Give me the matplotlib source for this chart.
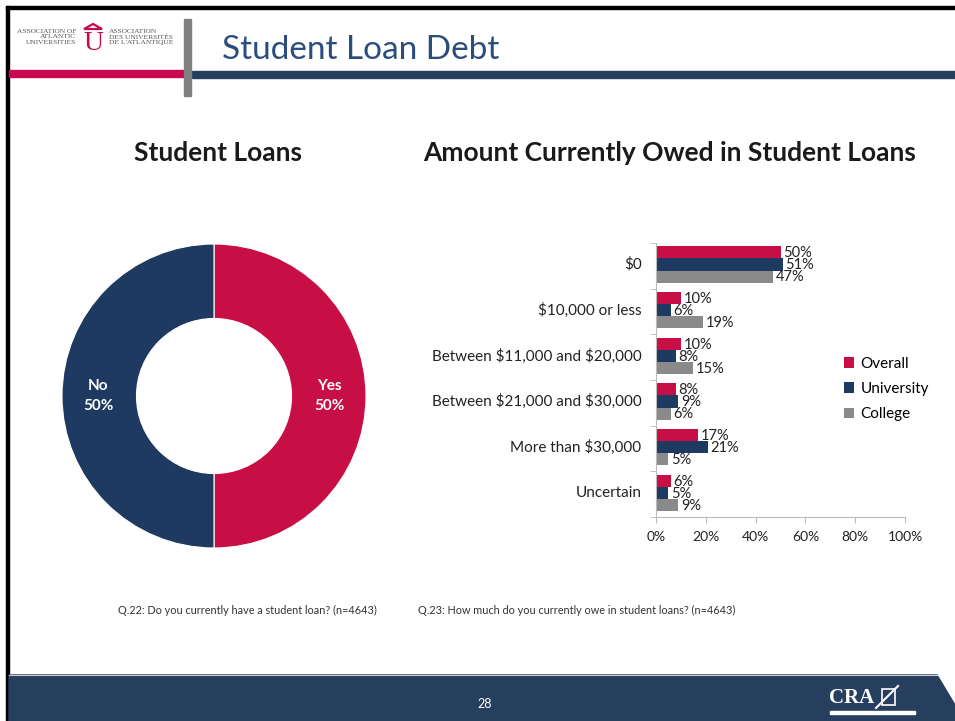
import matplotlib
matplotlib.use("Agg")
import matplotlib.pyplot as plt
import numpy as np
from matplotlib.patches import Rectangle, Polygon

plt.rcParams["font.family"] = ["Lato", "DejaVu Sans"]
plt.rcParams["text.parse_math"] = False

# --- data ---
pie_labels = ["Yes", "No"]
pie_values = [50, 50]

categories = ["$0", "$10,000 or less", "Between $11,000 and $20,000",
              "Between $21,000 and $30,000", "More than $30,000", "Uncertain"]
overall = [50, 10, 10, 8, 17, 6]
university = [51, 6, 8, 9, 21, 5]
college = [47, 19, 15, 6, 5, 9]
series_names = ["Overall", "University", "College"]
x_ticks = [0, 20, 40, 60, 80, 100]

RED = "#c80f45"
NAVY = "#1f3a60"
GRAY = "#8a8a8a"
TITLE_BLUE = "#2b4d7e"
FOOT = "#263f5f"

W, H = 955, 721
fig = plt.figure(figsize=(W / 100, H / 100), dpi=100)


def px_axes(x, y, w, h):
    return fig.add_axes([x / W, 1 - (y + h) / H, w / W, h / H])


def fx(x):
    return x / W


def fy(y):
    return 1 - y / H


# --- slide chrome ---
bg = fig.add_axes([0, 0, 1, 1])
bg.set_xlim(0, W)
bg.set_ylim(H, 0)
bg.axis("off")
bg.add_patch(Rectangle((6, 6), W, 2.5, color="black"))
bg.add_patch(Rectangle((6, 6), 2.5, H, color="black"))
bg.add_patch(Rectangle((9, 70), 175, 7, color="#c8084f"))
bg.add_patch(Rectangle((192, 71), W, 7, color=FOOT))
bg.add_patch(Rectangle((184, 19), 7, 77, color="#808080"))
bg.add_patch(Polygon([(9, 675), (937, 675), (955, 705), (955, 721), (9, 721)],
                     closed=True, color=FOOT))
bg.plot([9, 937], [674.5, 674.5], color="#c8c8c8", lw=0.8)

# logo
bg.text(76, 37, "ASSOCIATION OF\nATLANTIC\nUNIVERSITIES", fontsize=5.4,
        family="Liberation Serif", color="#555555", ha="right", va="center",
        multialignment="right", linespacing=1.1)
bg.text(109, 37, "ASSOCIATION\nDES UNIVERSITÉS\nDE L'ATLANTIQUE", fontsize=5.4,
        family="Liberation Serif", color="#555555", ha="left", va="center",
        linespacing=1.1)
bg.text(93, 43, "U", fontsize=20, family="Liberation Serif", color="#c8084f",
        ha="center", va="center")
bg.add_patch(Polygon([(84, 29), (93, 24), (102, 29)], closed=True,
                     fill=False, ec="#c8084f", lw=1.6))

bg.text(222, 50, "Student Loan Debt", fontsize=24, color=TITLE_BLUE,
        ha="left", va="center")

bg.text(485, 704, "28", fontsize=9, color="white", ha="center", va="center")
bg.text(852, 698, "CRA", fontsize=15, family="Liberation Serif",
        weight="bold", color="white", ha="center", va="center")
bg.add_patch(Rectangle((882, 689), 13, 16, fill=False, ec="white", lw=1.2))
bg.plot([876, 898], [708, 686], color="white", lw=1.5)
bg.add_patch(Rectangle((830, 711), 85, 3, color="white"))

# section titles
bg.text(218, 153, "Student Loans", fontsize=19, weight="bold",
        color="#1a1a1a", ha="center", va="center")
bg.text(670, 153, "Amount Currently Owed in Student Loans", fontsize=19,
        weight="bold", color="#1a1a1a", ha="center", va="center")

bg.text(118, 610, "Q.22: Do you currently have a student loan? (n=4643)",
        fontsize=7.8, color="#333333", ha="left", va="center")
bg.text(418, 610, "Q.23: How much do you currently owe in student loans? (n=4643)",
        fontsize=7.8, color="#333333", ha="left", va="center")

# --- donut ---
axp = px_axes(62, 244, 304, 304)
axp.pie(pie_values, colors=[RED, NAVY], startangle=90, counterclock=False,
        radius=1, wedgeprops=dict(width=0.49, edgecolor="white", linewidth=0.8))
axp.set_xlim(-1, 1)
axp.set_ylim(-1, 1)
axp.text(0.76, 0.0, f"{pie_labels[0]}\n{pie_values[0]}%", color="white",
         fontsize=11, weight="bold", ha="center", va="center", linespacing=1.5)
axp.text(-0.76, 0.0, f"{pie_labels[1]}\n{pie_values[1]}%", color="white",
         fontsize=11, weight="bold", ha="center", va="center", linespacing=1.5)

# --- bars ---
axb = px_axes(656, 243, 249, 274)
y = np.arange(len(categories))
h = 0.265
for k, (vals, col) in enumerate(zip([overall, university, college],
                                    [RED, NAVY, GRAY])):
    pos = y + (k - 1) * h - 0.03
    axb.barh(pos, vals, height=h, color=col, label=series_names[k])
    for p, v in zip(pos, vals):
        axb.text(v + 1.0, p + 0.02, f"{v}%", fontsize=10.5, color="#222222",
                 ha="left", va="center")

axb.set_ylim(len(categories) - 0.5, -0.5)
axb.set_xlim(0, 100)
axb.set_yticks(y - 0.06)
axb.set_yticklabels(categories, fontsize=11, color="#222222")
axb.set_yticks(np.arange(-0.5, len(categories)), minor=True)
axb.tick_params(axis="y", which="major", length=0, pad=14)
axb.tick_params(axis="y", which="minor", length=4, color="#bbbbbb")
for t in axb.get_yticklabels():
    t.set_transform(t.get_transform() + matplotlib.transforms.ScaledTranslation(
        5 / 100, 0, fig.dpi_scale_trans))
axb.set_xticks(x_ticks)
axb.set_xticklabels([f"{t}%" for t in x_ticks], fontsize=10, color="#222222")
axb.tick_params(axis="x", length=4, color="#bbbbbb", pad=6)
for s in ["top", "right"]:
    axb.spines[s].set_visible(False)
for s in ["left", "bottom"]:
    axb.spines[s].set_color("#bbbbbb")

handles, labels = axb.get_legend_handles_labels()
fig.legend(handles, labels, loc="center left",
           bbox_to_anchor=(fx(830), fy(389)), frameon=False, fontsize=11,
           handlelength=0.7, handleheight=0.7, handletextpad=0.4,
           labelspacing=0.75)

fig.savefig("out.png", dpi=100)
